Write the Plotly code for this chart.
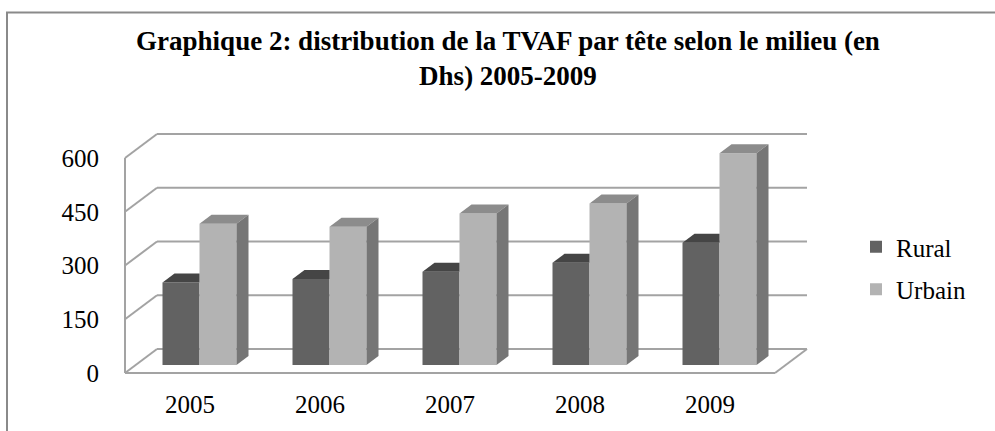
import plotly.graph_objects as go

# ---- data ----
years = ["2005", "2006", "2007", "2008", "2009"]
rural = [230, 240, 260, 285, 341]
urbain = [394, 386, 423, 451, 591]
y_ticks = [0, 150, 300, 450, 600]
series_names = ["Rural", "Urbain"]
title_text = "Graphique 2: distribution de la TVAF par tête selon le milieu (en<br>Dhs) 2005-2009"

# ---- layout geometry (pixels) ----
W, H = 995, 431
L, R, T, B = 120, 815, 128, 378          # plot area
PX_X = 130.0                              # px per category
PX_Y = 215.0 / 600.0                      # px per value unit
FRONT_LEFT_PX, FRONT_ZERO_PX = 125, 373

x_min = -0.5 - (FRONT_LEFT_PX - L) / PX_X
x_max = -0.5 + (R - FRONT_LEFT_PX) / PX_X
y_min = -(B - FRONT_ZERO_PX) / PX_Y
y_max = (FRONT_ZERO_PX - T) / PX_Y

# 3D offsets in data units
wall_dx, wall_dy = 32 / PX_X, 24 / PX_Y      # depth of floor / walls
bar_sx, bar_sy = 9.5 / PX_X, 8 / PX_Y        # bar front face position inside depth
bar_dx, bar_dy = 12 / PX_X, 9 / PX_Y         # bar depth
bar_w = 37 / PX_X

C_RURAL, C_RURAL_TOP = "#626262", "#454545"
C_URB, C_URB_TOP, C_URB_SIDE = "#b3b3b3", "#8c8c8c", "#767676"
GRID = "#a3a3a3"
FONT = "Liberation Serif"

fig = go.Figure()

# front faces as real bars
fig.add_trace(go.Bar(
    x=[i + bar_sx for i in range(len(years))], y=rural, base=bar_sy,
    width=bar_w, offset=-bar_w, name=series_names[0], legendgroup="r",
    marker=dict(color=C_RURAL, line=dict(width=0)), hoverinfo="skip"))
fig.add_trace(go.Bar(
    x=[i + bar_sx for i in range(len(years))], y=urbain, base=bar_sy,
    width=bar_w, offset=0, name=series_names[1], legendgroup="u",
    marker=dict(color=C_URB, line=dict(width=0)), hoverinfo="skip"))

# 3D top / side faces computed from data
def poly(xs, ys, color):
    fig.add_trace(go.Scatter(x=xs + [xs[0]], y=ys + [ys[0]], fill="toself",
                             fillcolor=color, mode="lines", line=dict(width=0),
                             showlegend=False, hoverinfo="skip"))

for i in range(len(years)):
    xc = i + bar_sx
    # rural top (visible part only, clipped by urbain front)
    xl, xr = xc - bar_w, xc
    top = bar_sy + rural[i]
    poly([xl, xr, xr, xl + bar_dx], [top, top, top + bar_dy, top + bar_dy], C_RURAL_TOP)
    # urbain top + side
    xl, xr = xc, xc + bar_w
    top = bar_sy + urbain[i]
    poly([xl, xr, xr + bar_dx, xl + bar_dx], [top, top, top + bar_dy, top + bar_dy], C_URB_TOP)
    poly([xr, xr, xr + bar_dx, xr + bar_dx],
         [bar_sy, top, top + bar_dy, bar_sy + bar_dy], C_URB_SIDE)

# walls / gridlines as shapes below the traces
shapes = []
def seg(x0, y0, x1, y1):
    shapes.append(dict(type="line", xref="x", yref="y", x0=x0, y0=y0, x1=x1, y1=y1,
                       line=dict(color=GRID, width=2), layer="below"))

xf0, xf1 = -0.5, len(years) - 0.5
for v in y_ticks:
    seg(xf0, v, xf0 + wall_dx, v + wall_dy)                       # left wall diagonal
    seg(xf0 + wall_dx, v + wall_dy, xf1 + wall_dx, v + wall_dy)   # back wall gridline
seg(xf0, 0, xf0, y_ticks[-1])                                     # left wall front edge
seg(xf0, 0, xf1, 0)                                               # floor front edge
seg(xf1, 0, xf1 + wall_dx, wall_dy)                               # floor right edge

# outer frame (top + left borders) in paper coords
def px2paper_x(px):
    return (px - L) / (R - L)
def px2paper_y(py):
    return (B - py) / (B - T)
shapes.append(dict(type="path", xref="paper", yref="paper",
                   path=f"M {px2paper_x(W + 5)},{px2paper_y(12.5)} L {px2paper_x(7)},{px2paper_y(12.5)} "
                        f"L {px2paper_x(7)},{px2paper_y(H + 5)}",
                   line=dict(color="#8a8a8a", width=2)))

fig.update_layout(
    width=W, height=H, autosize=False,
    margin=dict(l=L, r=W - R, t=T, b=H - B),
    paper_bgcolor="white", plot_bgcolor="rgba(0,0,0,0)",
    barmode="overlay",
    shapes=shapes,
    font=dict(family=FONT, color="black", size=25),
    title=dict(text=title_text, x=508 / W, xanchor="center", xref="container",
               y=1 - 50 / H, yanchor="middle", yref="container",
               font=dict(family=FONT, size=27, color="black", weight="bold")),
    xaxis=dict(range=[x_min, x_max], tickvals=list(range(len(years))), ticktext=years,
               showgrid=False, zeroline=False, showline=False, ticks="",
               ticklabelstandoff=9, tickfont=dict(family=FONT, size=25, color="black")),
    yaxis=dict(range=[y_min, y_max], tickvals=y_ticks, ticktext=[str(v) for v in y_ticks],
               showgrid=False, zeroline=False, showline=False, ticks="",
               ticklabelstandoff=20, tickfont=dict(family=FONT, size=25, color="black")),
    legend=dict(x=px2paper_x(856), y=px2paper_y(268), xanchor="left", yanchor="middle",
                font=dict(family=FONT, size=25, color="black"),
                traceorder="grouped", tracegroupgap=7,
                bgcolor="rgba(0,0,0,0)"),
)

fig.write_html("out.html", config={"displayModeBar": False},
               post_script="document.body.style.margin='0px';")
